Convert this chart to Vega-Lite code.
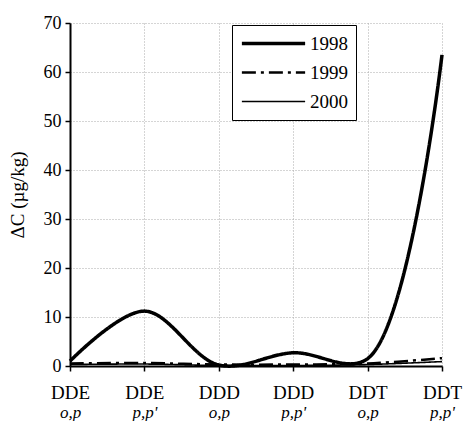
{
  "$schema": "https://vega.github.io/schema/vega-lite/v6.json",
  "autosize": "none",
  "width": 372,
  "height": 343,
  "padding": {"left": 70, "top": 23, "right": 24, "bottom": 55},
  "background": "white",
  "config": {
    "font": "Times New Roman",
    "view": {"stroke": null},
    "axis": {"labelFont": "Times New Roman", "titleFont": "Times New Roman", "labelColor": "black", "titleColor": "black"},
    "legend": {"labelFont": "Times New Roman"}
  },
  "data": {"values": [
    {"cat": "DDE|o,p", "year": "1998", "v": 1.0},
    {"cat": "DDE|p,p'", "year": "1998", "v": 11.2},
    {"cat": "DDD|o,p", "year": "1998", "v": 0.2},
    {"cat": "DDD|p,p'", "year": "1998", "v": 2.7},
    {"cat": "DDT|o,p", "year": "1998", "v": 1.5},
    {"cat": "DDT|p,p'", "year": "1998", "v": 63.5},
    {"cat": "DDE|o,p", "year": "1999", "v": 0.5},
    {"cat": "DDE|p,p'", "year": "1999", "v": 0.6},
    {"cat": "DDD|o,p", "year": "1999", "v": 0.3},
    {"cat": "DDD|p,p'", "year": "1999", "v": 0.3},
    {"cat": "DDT|o,p", "year": "1999", "v": 0.5},
    {"cat": "DDT|p,p'", "year": "1999", "v": 1.6},
    {"cat": "DDE|o,p", "year": "2000", "v": 0.3},
    {"cat": "DDE|p,p'", "year": "2000", "v": 0.4},
    {"cat": "DDD|o,p", "year": "2000", "v": 0.1},
    {"cat": "DDD|p,p'", "year": "2000", "v": 0.1},
    {"cat": "DDT|o,p", "year": "2000", "v": 0.3},
    {"cat": "DDT|p,p'", "year": "2000", "v": 0.9}
  ]},
  "resolve": {"axis": {"x": "independent"}},
  "layer": [
    {
      "transform": [{"filter": "datum.year == '1998'"}],
      "mark": {"type": "line", "interpolate": "catmull-rom", "color": "black"},
      "encoding": {
        "x": {"field": "cat", "type": "ordinal",
          "sort": ["DDE|o,p", "DDE|p,p'", "DDD|o,p", "DDD|p,p'", "DDT|o,p", "DDT|p,p'"],
          "scale": {"type": "point", "padding": 0},
          "axis": {"title": null, "orient": "bottom", "labelAngle": 0, "labelExpr": "split(datum.label, '|')[0]",
            "labelFontSize": 19, "labelPadding": 12, "grid": true, "gridColor": "#aaaaaa", "gridDash": [1, 2], "gridWidth": 1,
            "domainColor": "black", "domainWidth": 2, "tickColor": "black", "tickSize": 5, "tickWidth": 1.5}},
        "y": {"field": "v", "type": "quantitative",
          "scale": {"domain": [0, 70], "nice": false},
          "axis": {"title": "ΔC (µg/kg)", "titleFontSize": 19, "titleFontWeight": "normal", "titlePadding": 16,
            "values": [0, 10, 20, 30, 40, 50, 60, 70], "labelFontSize": 18, "labelPadding": 4,
            "grid": true, "gridColor": "#aaaaaa", "gridDash": [1, 2], "gridWidth": 1,
            "domainColor": "black", "domainWidth": 2, "tickColor": "black", "tickSize": 5, "tickWidth": 1.5}},
        "strokeDash": {"field": "year", "type": "nominal",
          "scale": {"domain": ["1998", "1999", "2000"], "range": [[1, 0], [14, 5, 3, 5], [1, 0]]},
          "legend": {"title": null, "orient": "none", "legendX": 162, "legendY": 2,
            "symbolType": "stroke", "symbolSize": 4000, "symbolStrokeColor": "black", "clipHeight": 21,
            "labelFontSize": 19, "labelColor": "black",
            "rowPadding": 8, "padding": 8, "fillColor": "white", "strokeColor": "black", "labelOffset": 3}},
        "strokeWidth": {"field": "year", "type": "nominal",
          "scale": {"domain": ["1998", "1999", "2000"], "range": [3.5, 1.6, 1.2]},
          "legend": {"title": null, "orient": "none", "legendX": 162, "legendY": 2,
            "symbolType": "stroke", "symbolSize": 4000, "symbolStrokeColor": "black", "clipHeight": 21,
            "labelFontSize": 19, "labelColor": "black",
            "rowPadding": 8, "padding": 8, "fillColor": "white", "strokeColor": "black", "labelOffset": 3}}
      }
    },
    {
      "transform": [{"filter": "datum.year != '1998'"}],
      "mark": {"type": "line", "interpolate": "catmull-rom", "color": "black"},
      "encoding": {
        "x": {"field": "cat", "type": "ordinal",
          "sort": ["DDE|o,p", "DDE|p,p'", "DDD|o,p", "DDD|p,p'", "DDT|o,p", "DDT|p,p'"],
          "scale": {"type": "point", "padding": 0},
          "axis": {"title": null, "orient": "bottom", "labelAngle": 0, "labelExpr": "split(datum.label, '|')[1]",
            "labelFontSize": 17, "labelFontStyle": "italic", "labelPadding": 38, "grid": false, "domain": false, "ticks": false}},
        "y": {"field": "v", "type": "quantitative"},
        "strokeDash": {"field": "year", "type": "nominal"},
        "strokeWidth": {"field": "year", "type": "nominal"}
      }
    }
  ]
}
